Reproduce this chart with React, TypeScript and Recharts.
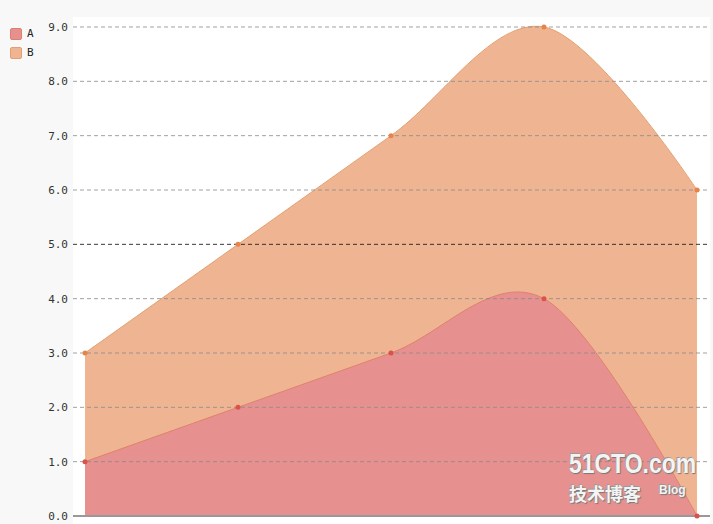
import React from "react";
import { AreaChart, Area, XAxis, YAxis, ReferenceLine } from "recharts";

const categories = ["1", "2", "3", "4", "5"];
const seriesA = [1, 2, 3, 4, 0];
const seriesB = [3, 5, 7, 9, 6];
const yTicks = [0, 1, 2, 3, 4, 5, 6, 7, 8, 9];

const data = categories.map((name, i) => ({
  name,
  A: seriesA[i],
  B: seriesB[i],
}));

const series = [
  { key: "A", fill: "#e69190", stroke: "#e0806c", dot: "#d9534a" },
  { key: "B", fill: "#efb592", stroke: "#e3a06e", dot: "#e8844a" },
];

// cardinal spline (tension 0), same maths as d3's curveCardinal
const cardinal = (context: any) => {
  let x0 = NaN, x1 = NaN, x2 = NaN, y0 = NaN, y1 = NaN, y2 = NaN;
  let pointState = 0;
  let line = NaN;
  const k = 1 / 6;
  const seg = (x: number, y: number) => {
    context.bezierCurveTo(
      x1 + k * (x2 - x0),
      y1 + k * (y2 - y0),
      x2 + k * (x1 - x),
      y2 + k * (y1 - y),
      x2,
      y2
    );
  };
  return {
    areaStart() {
      line = 0;
    },
    areaEnd() {
      line = NaN;
    },
    lineStart() {
      x0 = x1 = x2 = y0 = y1 = y2 = NaN;
      pointState = 0;
    },
    lineEnd() {
      if (pointState === 2) context.lineTo(x2, y2);
      else if (pointState === 3) seg(x1, y1);
      if (line || (line !== 0 && pointState === 1)) context.closePath();
      line = 1 - line;
    },
    point(x: number, y: number) {
      x = +x;
      y = +y;
      if (pointState === 0) {
        pointState = 1;
        line ? context.lineTo(x, y) : context.moveTo(x, y);
      } else if (pointState === 1) {
        pointState = 2;
        x1 = x;
        y1 = y;
      } else {
        pointState = 3;
        seg(x, y);
      }
      x0 = x1; x1 = x2; x2 = x;
      y0 = y1; y1 = y2; y2 = y;
    },
  };
};

const font = "'DejaVu Sans Mono', monospace";

export default function App() {
  return (
    <div
      style={{
        position: "absolute",
        left: 0,
        top: 0,
        width: 713,
        height: 524,
        background: "#f8f8f8",
        overflow: "hidden",
      }}
    >
      <div
        style={{
          position: "absolute",
          left: 73,
          top: 17,
          width: 637,
          height: 507,
          background: "#ffffff",
        }}
      />
      <div style={{ position: "absolute", left: 0, top: 0 }}>
        <AreaChart
          width={713}
          height={524}
          data={data}
          margin={{ top: 27, right: 3, bottom: 8, left: 0 }}
        >
          <XAxis dataKey="name" hide padding={{ left: 12, right: 13 }} />
          <YAxis
            width={73}
            domain={[0, 9]}
            ticks={yTicks}
            interval={0}
            axisLine={false}
            tickLine={false}
            tickSize={0}
            tickMargin={5}
            tickFormatter={(v: number) => v.toFixed(1)}
            tick={{ fill: "#333", fontSize: 11, fontFamily: font }}
          />
          {[...series].reverse().map((s) => (
            <Area
              key={s.key}
              dataKey={s.key}
              type={cardinal as any}
              fill={s.fill}
              fillOpacity={1}
              stroke={s.stroke}
              strokeWidth={1}
              dot={{ r: 2.5, fill: s.dot, stroke: s.dot, strokeWidth: 0 }}
              activeDot={false}
              isAnimationActive={false}
            />
          ))}
          {yTicks
            .filter((t) => t > 0)
            .map((t) => (
              <ReferenceLine
                key={t}
                y={t}
                stroke={t === 5 ? "#222" : "#8a8a8a"}
                strokeOpacity={t === 5 ? 0.9 : 0.8}
                strokeDasharray="4 3"
              />
            ))}
          <ReferenceLine y={0} stroke="#999" strokeWidth={2} />
        </AreaChart>
      </div>
      <div
        style={{
          position: "absolute",
          left: 10,
          top: 24,
          fontFamily: font,
          fontSize: 11,
          color: "#222",
        }}
      >
        {series.map((s) => (
          <div key={s.key} style={{ display: "flex", alignItems: "center", height: 19 }}>
            <span
              style={{
                display: "inline-block",
                width: 10,
                height: 10,
                background: s.fill,
                border: `1px solid ${s.stroke}`,
                borderRadius: 2,
                marginRight: 5,
              }}
            />
            <span>{s.key}</span>
          </div>
        ))}
      </div>
      <div
        style={{
          position: "absolute",
          left: 569,
          top: 449,
          fontFamily: "'Liberation Sans Narrow', 'Liberation Sans', Arial, sans-serif",
          fontWeight: "bold",
          color: "#f4f4f4",
          textShadow: "1px 1px 1px #777, -1px -1px 0 #999",
          pointerEvents: "none",
        }}
      >
        <div
          style={{
            fontSize: 27,
            lineHeight: "30px",
            transform: "scaleX(0.85)",
            transformOrigin: "left",
          }}
        >
          51CTO.com
        </div>
        <div style={{ display: "flex", alignItems: "flex-start", marginTop: 3 }}>
          <span style={{ fontSize: 18, fontFamily: "'Noto Sans CJK SC'", lineHeight: "22px" }}>
            技术博客
          </span>
          <span style={{ fontSize: 12, marginLeft: 18, lineHeight: "16px" }}>Blog</span>
        </div>
      </div>
    </div>
  );
}
